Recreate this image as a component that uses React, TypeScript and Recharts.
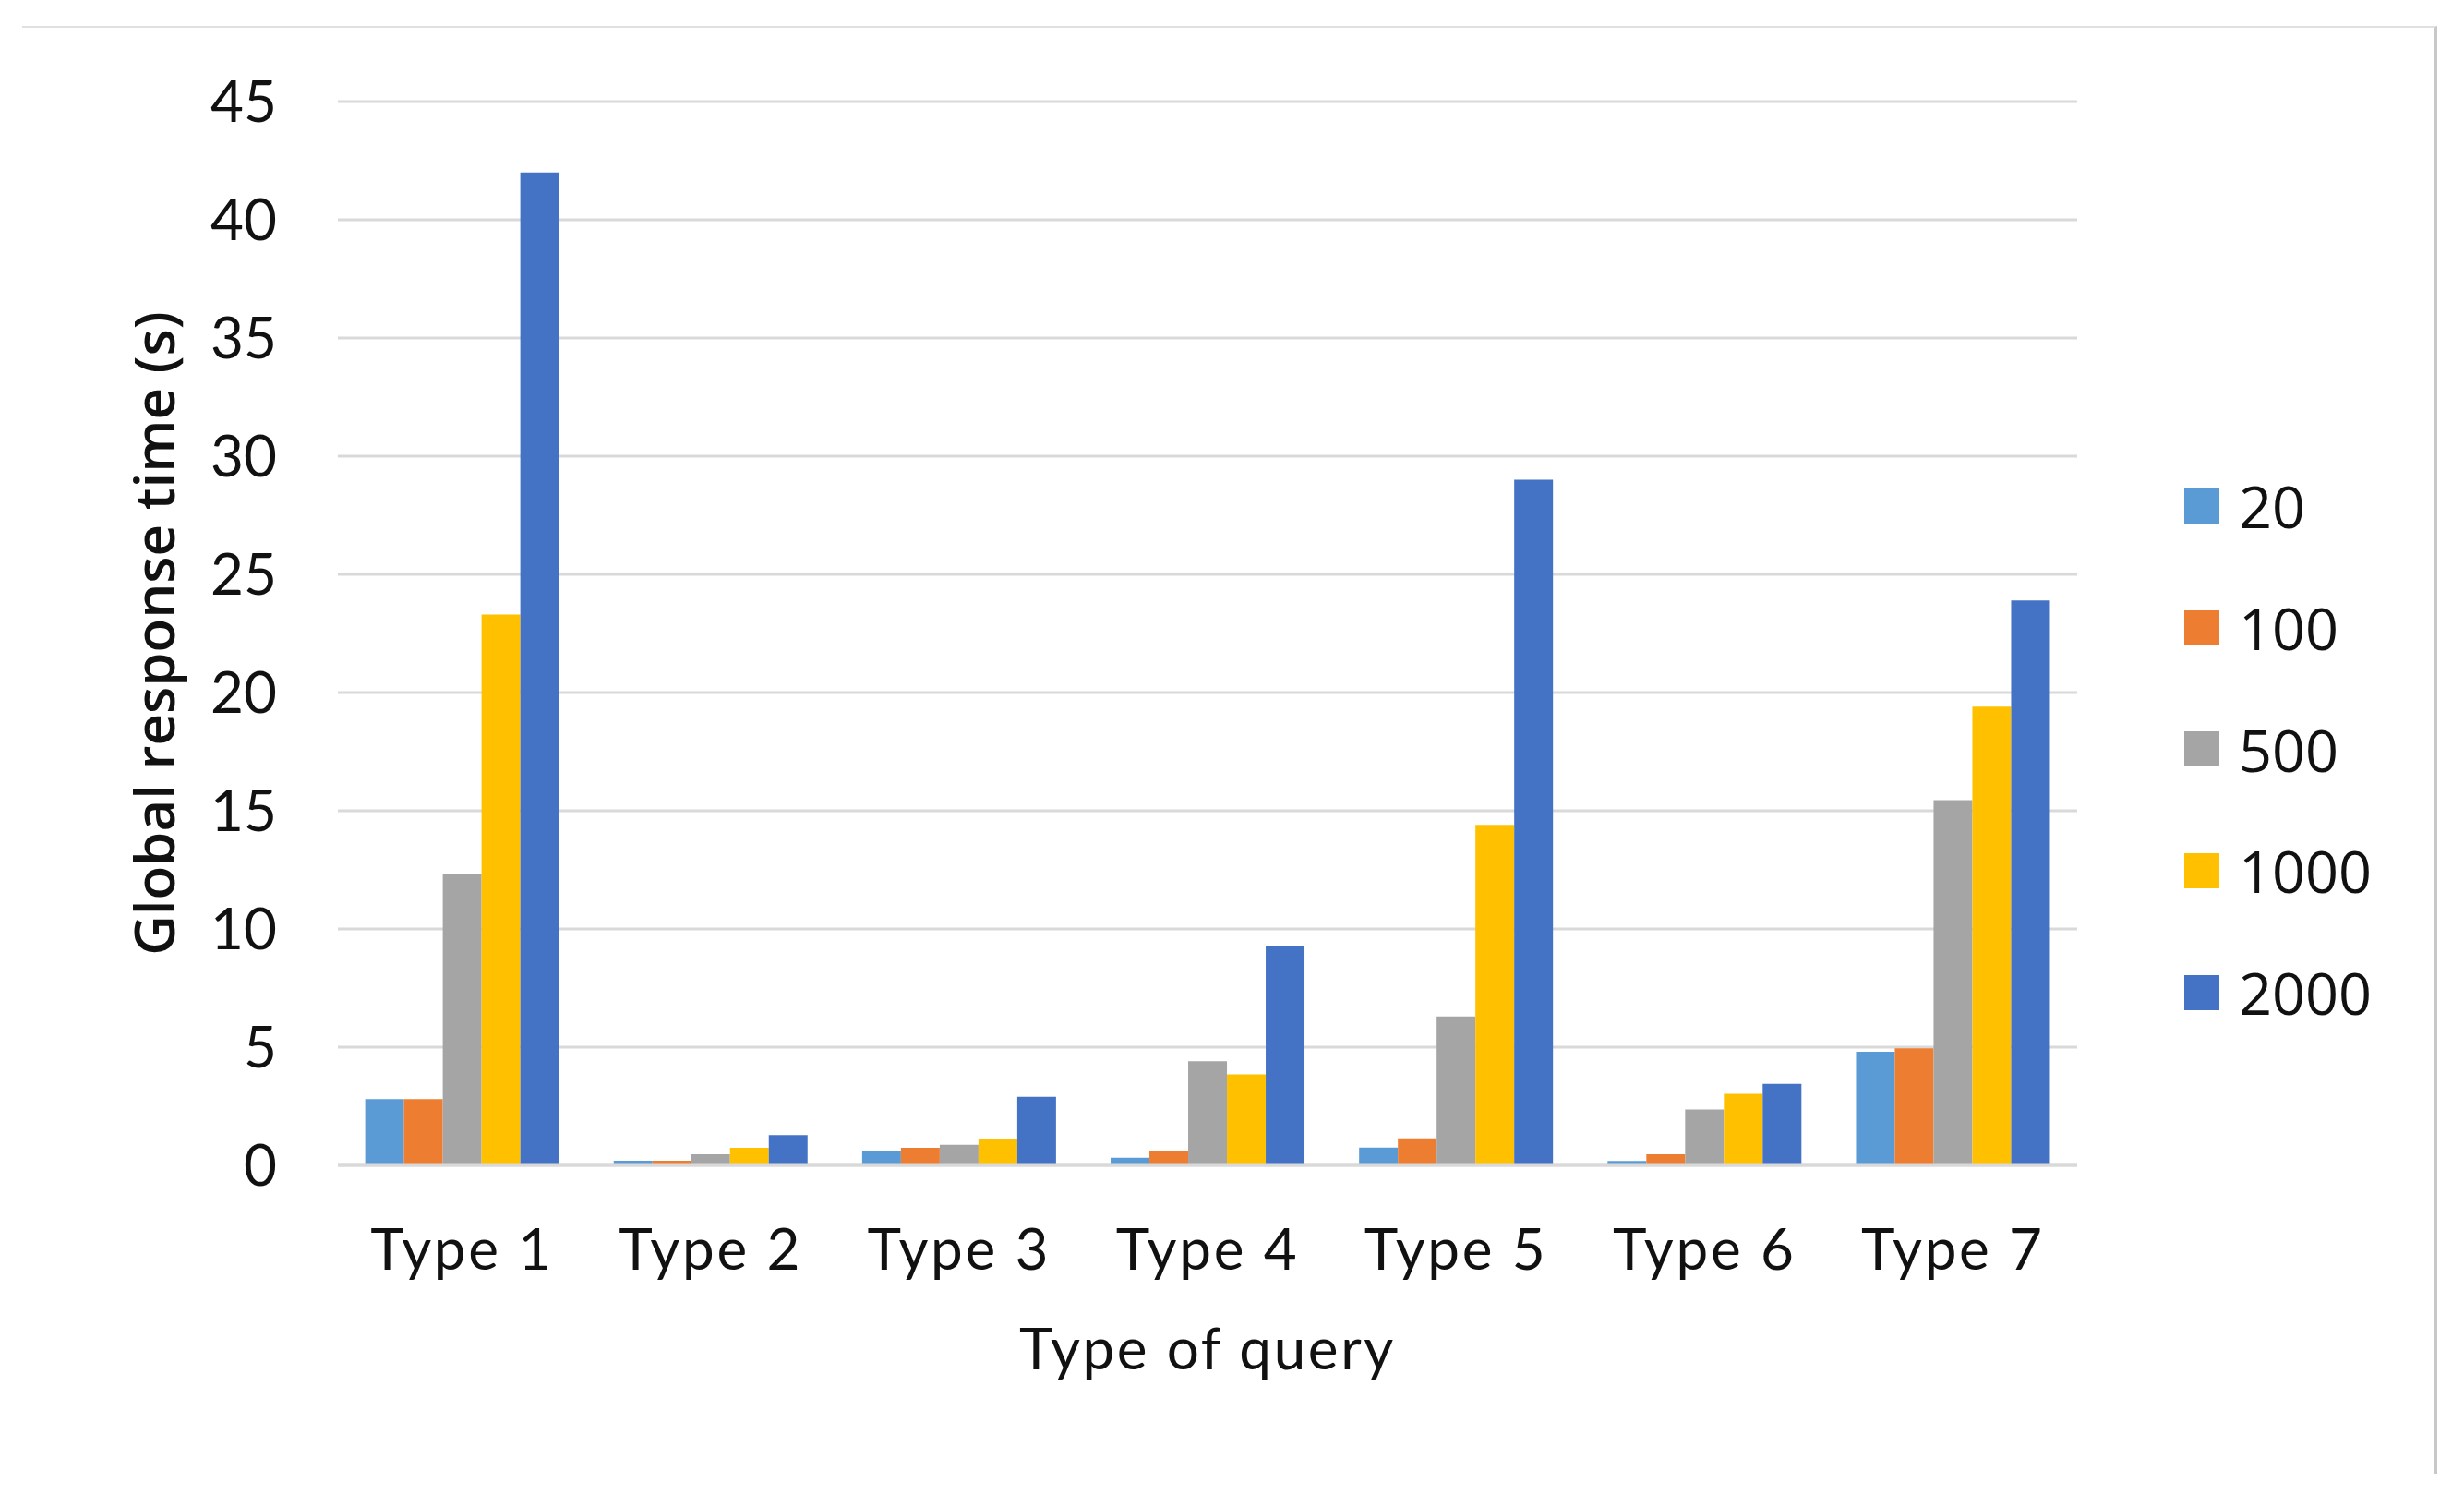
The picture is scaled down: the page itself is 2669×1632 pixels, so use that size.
import React from "react";
import { BarChart, Bar, XAxis, YAxis, CartesianGrid, Legend } from "recharts";

const categories = ["Type 1", "Type 2", "Type 3", "Type 4", "Type 5", "Type 6", "Type 7"];
const seriesNames = ["20", "100", "500", "1000", "2000"];
const seriesColors = ["#5B9BD5", "#ED7D31", "#A5A5A5", "#FFC000", "#4472C4"];
const s20 = [2.8, 0.2, 0.61, 0.32, 0.75, 0.19, 4.8];
const s100 = [2.8, 0.2, 0.74, 0.61, 1.14, 0.47, 4.95];
const s500 = [12.3, 0.47, 0.87, 4.4, 6.3, 2.36, 15.45];
const s1000 = [23.3, 0.74, 1.13, 3.85, 14.4, 3.03, 19.4];
const s2000 = [42.0, 1.28, 2.9, 9.3, 29.0, 3.45, 23.9];
const seriesValues = [s20, s100, s500, s1000, s2000];
const yTicks = [0, 5, 10, 15, 20, 25, 30, 35, 40, 45];
const xTitle = "Type of query";
const yTitle = "Global response time (s)";

const data = categories.map((name, i) => {
  const row: Record<string, any> = { name };
  seriesNames.forEach((s, k) => {
    row[s] = seriesValues[k][i];
  });
  return row;
});

const TEXT = "#111111";
const TICK_FONT = "Lato";
const LEGEND_FONT = "'Open Sans'";

const renderLegend = (props: any) => {
  const payload = [...(props.payload || [])].sort(
    (a: any, b: any) => seriesNames.indexOf(String(a.value)) - seriesNames.indexOf(String(b.value))
  );
  return (
    <div style={{ display: "flex", flexDirection: "column" }}>
      {payload.map((p: any) => (
        <div
          key={p.value}
          style={{ height: 131.7, display: "flex", alignItems: "center" }}
        >
          <span
            style={{
              display: "inline-block",
              width: 38,
              height: 38,
              background: p.color,
              marginRight: 21,
            }}
          />
          <span
            style={{
              fontFamily: LEGEND_FONT,
              fontSize: 63,
              color: TEXT,
              lineHeight: 1,
            }}
          >
            {p.value}
          </span>
        </div>
      ))}
    </div>
  );
};

export default function App() {
  return (
    <div style={{ position: "relative", width: 2669, height: 1632, background: "#fff" }}>
      <style>{"body{margin:0;background:#fff}"}</style>
      <div
        style={{
          position: "absolute",
          left: 24,
          top: 28,
          width: 2616,
          height: 1568,
          borderTop: "2px solid #e0e0e0",
          borderRight: "3px solid #c8c8c8",
          boxSizing: "border-box",
          pointerEvents: "none",
        }}
      />
      <BarChart
        width={2669}
        height={1632}
        data={data}
        margin={{ top: 110, right: 419, left: 66, bottom: 130 }}
        barCategoryGap="11%"
        barGap={0}
      >
        <CartesianGrid vertical={false} stroke="#d9d9d9" strokeWidth={3} />
        <XAxis
          dataKey="name"
          height={240}
          tickLine={false}
          tickSize={0}
          tickMargin={69}
          axisLine={{ stroke: "#d9d9d9", strokeWidth: 3 }}
          tick={{ fill: TEXT, fontSize: 62, fontFamily: TICK_FONT, letterSpacing: 2.7 }}
          interval={0}
          label={{
            value: xTitle,
            position: "insideBottom",
            offset: 19,
            fill: TEXT,
            fontSize: 62,
            fontFamily: TICK_FONT,
            letterSpacing: 2.6,
          }}
        />
        <YAxis
          width={300}
          domain={[0, 45]}
          ticks={yTicks}
          interval={0}
          tickLine={false}
          axisLine={false}
          tickSize={0}
          tickMargin={66}
          tick={{ fill: TEXT, fontSize: 62, fontFamily: TICK_FONT }}
          label={{
            value: yTitle,
            content: (props: any) => {
              const vb = props.viewBox || {};
              const cx = vb.x + 100;
              const cy = vb.y + vb.height / 2;
              return (
                <text
                  x={cx}
                  y={cy}
                  transform={`rotate(-90, ${cx}, ${cy})`}
                  textAnchor="middle"
                  dominantBaseline="central"
                  fill={TEXT}
                  fontSize={60}
                  fontWeight={600}
                  fontFamily="Open Sans"
                >
                  {yTitle}
                </text>
              );
            },
          }}
        />
        <Legend
          layout="vertical"
          align="center"
          verticalAlign="middle"
          content={renderLegend}
          wrapperStyle={{ left: 2366, top: 482, width: 300 }}
        />
        {seriesNames.map((s, k) => (
          <Bar
            key={s}
            dataKey={s}
            name={s}
            fill={seriesColors[k]}
            isAnimationActive={false}
          />
        ))}
      </BarChart>
    </div>
  );
}
